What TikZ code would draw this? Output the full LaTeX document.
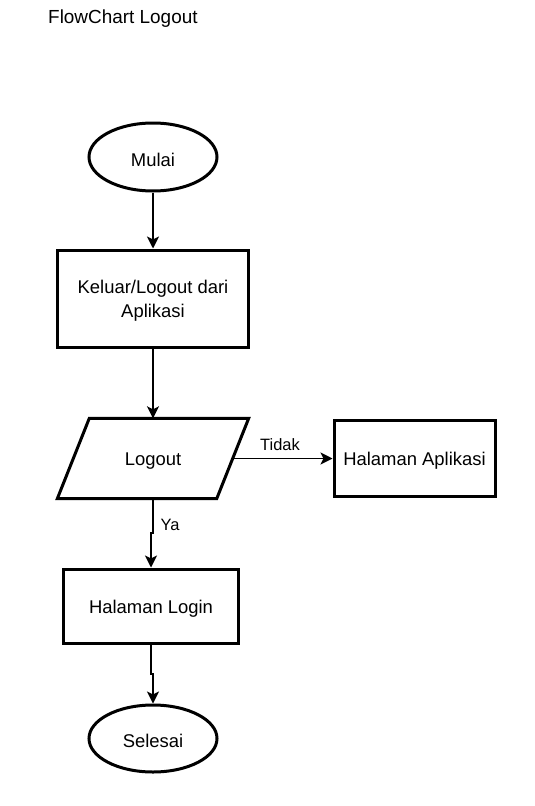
\documentclass[tikz,border=0pt]{standalone}
\usepackage{fontspec}
\setmainfont{Liberation Sans}
\usetikzlibrary{arrows.meta,calc,shapes.geometric}
\newcommand{\dn}[1]{\raisebox{-2.5bp}[\height][\depth]{#1}}
\begin{document}
\begin{tikzpicture}[x=1bp,y=-1bp,
  every node/.style={font=\fontsize{18.5}{24}\selectfont, inner sep=0pt, align=center},
  term/.style={ellipse, draw, line width=3bp, minimum width=128bp, minimum height=68bp},
  proc/.style={rectangle, draw, line width=3bp},
  io/.style={rectangle, minimum width=159bp, minimum height=80bp},
  flow/.style={line width=1.5bp, -{Stealth[length=12bp,width=12bp,inset=3bp]}},
  lbl/.style={font=\fontsize{16.5}{19}\selectfont}]
\useasboundingbox (0,0) rectangle (535,806);
\node[anchor=west, font=\fontsize{19}{22}\selectfont] (title) at (48,19) {FlowChart Logout};
\node[term] (mulai) at (153,157) {\dn{Mulai}};
\node[proc, minimum width=190bp, minimum height=97bp] (keluar) at (153,298.5) {\dn{Keluar/Logout dari}\\\dn{Aplikasi}};
\node[io] (logout) at (153,458.5) {\dn{Logout}};
\draw[line width=3bp, line join=miter]
  ($(logout.north west)+(16,0)$) -- ($(logout.north east)+(16,0)$) --
  ($(logout.south east)+(-16,0)$) -- ($(logout.south west)+(-16,0)$) -- cycle;
\node[proc, minimum width=161bp, minimum height=76bp] (aplikasi) at (414.5,458.5) {\dn{Halaman Aplikasi}};
\node[proc, minimum width=174bp, minimum height=74bp] (login) at (151,606) {\dn{Halaman Login}};
\node[term, minimum height=67bp] (selesai) at (153,738.5) {\dn{Selesai}};
\draw[flow] (mulai.south) -- (keluar.north);
\draw[flow] (keluar.south) -- (logout.north);
\draw[flow] (logout.south) |- ($(logout.south)!0.5!(login.north)$) -| (login.north);
\draw[flow] (login.south) |- ($(login.south)!0.5!(selesai.north)$) -| (selesai.north);
\draw[flow] (logout.east) -- (aplikasi.west);
\node[lbl] (tidak) at (280,445) {Tidak};
\node[lbl] (ya) at (170,525) {Ya};
\end{tikzpicture}
\end{document}
